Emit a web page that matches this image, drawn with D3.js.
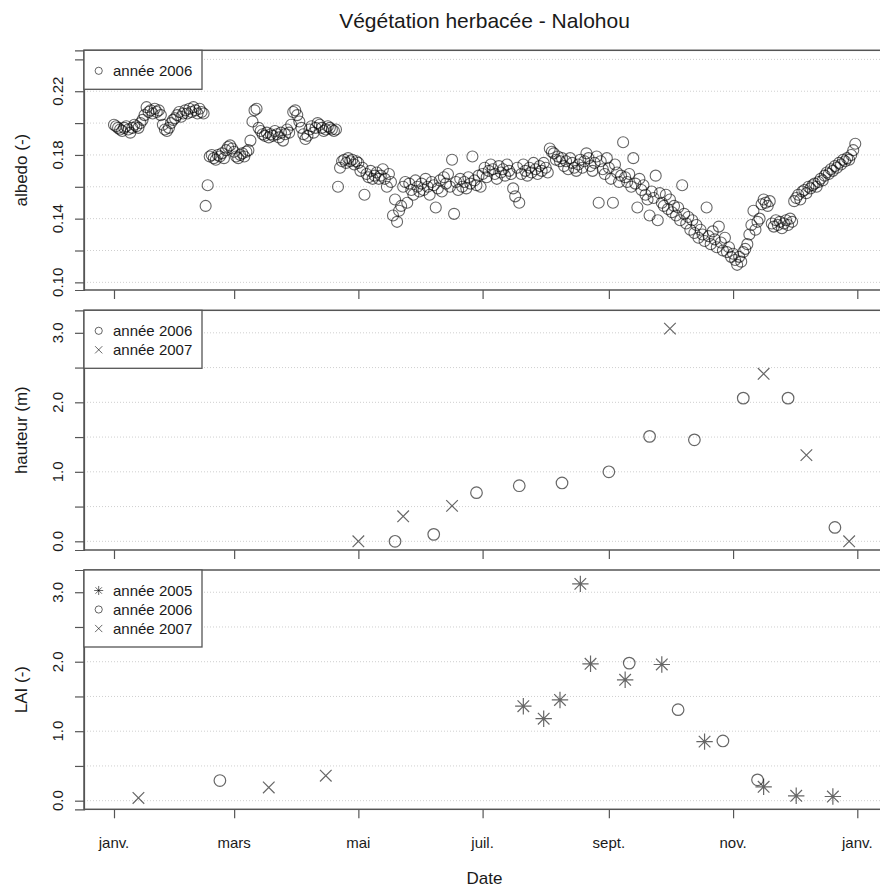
<!DOCTYPE html>
<html><head><meta charset="utf-8">
<script src="https://cdn.jsdelivr.net/npm/d3@7"></script>
<style>body{margin:0;background:#fff}svg{display:block}text{font-family:"Liberation Sans",Arial,Helvetica,sans-serif;fill:#1a1a1a}</style>
</head><body><svg id="c" width="880" height="891"></svg>
<script>
// ---- DATA ----
const monthTickDays = [0, 59, 120, 181, 243, 304, 365];
const monthTickLabels = ["janv.", "mars", "mai", "juil.", "sept.", "nov.", "janv."];

// albedo 2006: one value per day of year, starting Jan 1 (index = day)
const albedo2006 = [
0.199,0.198,0.197,0.196,0.195,0.197,0.198,0.196,0.194,0.197,0.199,0.198,0.197,0.200,0.202,
0.205,0.210,0.207,0.208,0.206,0.209,0.207,0.208,0.205,
0.199,0.196,0.195,0.197,0.200,0.202,
0.203,0.205,0.207,0.204,0.206,0.208,0.206,0.209,0.207,0.210,0.208,0.206,0.209,0.207,0.206,
0.148,0.161,
0.179,0.180,0.178,0.177,0.180,0.179,0.181,0.178,0.183,0.185,0.186,0.184,0.182,0.179,0.178,0.180,0.181,0.179,0.182,0.183,0.189,0.201,0.208,
0.209,0.197,0.195,0.193,0.192,
0.194,0.191,0.193,0.192,0.195,0.193,0.191,0.194,0.189,0.193,0.196,0.194,
0.199,0.207,0.208,0.205,0.201,
0.197,0.193,0.190,0.192,0.196,0.198,0.194,0.197,0.200,
0.199,0.197,0.195,0.196,0.198,0.197,0.196,0.195,0.196,
0.160,
0.172,0.176,0.177,0.175,0.178,0.176,0.177,0.174,0.176,0.175,
0.170,0.172,0.155,0.168,0.166,0.170,0.165,0.167,0.169,0.165,
0.167,0.171,0.165,0.160,0.168,0.163,0.142,0.152,0.138,0.145,
0.148,0.160,0.163,0.150,0.162,0.158,0.155,0.164,0.160,0.157,
0.162,0.158,0.165,0.160,0.155,0.163,0.161,0.147,0.159,0.164,
0.157,0.166,0.162,0.168,0.160,0.177,0.143,0.163,0.158,0.165,
0.160,0.163,0.159,0.166,0.162,0.179,0.164,0.161,0.167,0.160,
0.168,0.172,0.166,0.170,0.174,0.171,0.168,0.165,0.173,0.169,
0.171,0.167,0.174,0.170,0.168,0.159,0.154,0.172,0.150,0.168,
0.174,0.170,0.167,0.172,0.169,0.175,0.171,0.168,0.173,0.170,
0.175,0.172,0.169,0.184,0.182,0.181,0.177,0.179,0.176,0.178,
0.173,0.176,0.171,0.178,0.175,0.172,0.170,0.174,0.177,0.172,
0.176,0.181,0.178,0.173,0.170,0.175,0.179,0.150,0.176,0.171,
0.168,0.178,0.172,0.165,0.150,0.174,0.169,0.163,0.167,0.188,
0.166,0.163,0.168,0.160,0.178,0.162,0.147,0.165,0.158,0.161,
0.155,0.152,0.142,0.157,0.153,0.167,0.139,0.156,0.150,0.148,
0.155,0.146,0.152,0.144,0.148,0.142,0.147,0.139,0.161,0.143,
0.137,0.141,0.133,0.139,0.131,0.136,0.128,0.133,0.130,0.126,
0.147,0.129,0.124,0.132,0.127,0.122,0.135,0.125,0.120,0.128,
0.119,0.122,0.116,0.118,0.114,0.111,0.116,0.113,0.119,0.121,
0.124,0.130,0.136,0.145,0.133,0.138,0.140,0.149,0.152,0.150,0.148,0.151,
0.137,0.135,0.139,0.136,0.138,0.134,0.137,0.139,0.136,0.140,0.138,
0.151,0.153,0.155,0.152,0.157,0.158,0.156,0.160,0.159,0.161,0.162,0.160,
0.163,0.165,0.164,0.167,0.169,0.168,0.171,0.170,0.173,0.172,0.175,
0.174,0.177,0.176,0.178,0.177,0.180,0.183,0.187
];

// hauteur (m)
const hauteur2006Days = [138, 157, 178, 199, 220, 243, 263, 285, 309, 331, 354];
const hauteur2006Vals = [0.00, 0.10, 0.70, 0.80, 0.84, 1.00, 1.51, 1.46, 2.06, 2.06, 0.20];
const hauteur2007Days = [120, 142, 166, 273, 319, 340, 361];
const hauteur2007Vals = [0.00, 0.36, 0.51, 3.06, 2.41, 1.24, 0.00];

// LAI (-)
const lai2005Days = [201, 211, 219, 229, 234, 251, 269, 290, 319, 335, 353];
const lai2005Vals = [1.36, 1.18, 1.45, 3.12, 1.97, 1.74, 1.96, 0.85, 0.20, 0.07, 0.06];
const lai2006Days = [52, 253, 277, 299, 316];
const lai2006Vals = [0.29, 1.98, 1.31, 0.86, 0.30];
const lai2007Days = [12, 76, 104];
const lai2007Vals = [0.04, 0.19, 0.36];

const albedoTicks = [0.10,0.12,0.14,0.16,0.18,0.20,0.22,0.24];
const albedoLabels = [0.10,0.14,0.18,0.22];
const heightTicks = [0,0.5,1,1.5,2,2.5,3];
const heightLabels = [0,1,2,3];

// ---- DRAWING ----
const svg = d3.select("#c");
const X0 = 84, X1 = 885;
const t0 = Date.UTC(2006,0,1), DAY = 86400000;
const toDate = d => new Date(t0 + d*DAY);
const x = d3.scaleUtc().domain([toDate(-14.73), toDate(378.6)]).range([X0, X1]);

const boxCol = "#555";
const markCol = "rgba(0,0,0,0.6)";

function panel(top, bottom, ydom, ticks, labels, fmt, title) {
  const y = d3.scaleLinear().domain(ydom).range([bottom, top]);
  const g = svg.append("g");
  g.selectAll("line.grid").data(ticks).join("line")
    .attr("x1", X0).attr("x2", X1).attr("y1", d=>y(d)).attr("y2", d=>y(d))
    .attr("stroke", "#cfcfcf").attr("stroke-width", 1).attr("stroke-dasharray", "1,2");
  const ax = d3.axisLeft(y).tickValues(ticks).tickSize(9).tickFormat("");
  const ag = g.append("g").attr("transform", `translate(${X0},0)`).call(ax);
  ag.select(".domain").attr("stroke", boxCol).attr("stroke-width", 1.2);
  ag.selectAll(".tick line").attr("stroke", boxCol).attr("stroke-width", 1.2);
  g.selectAll("text.yl").data(labels).join("text")
    .attr("transform", d=>`translate(57,${y(d)}) rotate(-90)`)
    .attr("text-anchor", "middle").attr("dominant-baseline", "central")
    .style("font-size", "15px").text(d=>fmt(d));
  const bx = d3.axisBottom(x).tickValues(monthTickDays.map(toDate)).tickSize(9).tickFormat("");
  const bg = g.append("g").attr("transform", `translate(0,${bottom})`).call(bx);
  bg.select(".domain").remove();
  bg.selectAll(".tick line").attr("stroke", boxCol).attr("stroke-width", 1.2);
  g.append("rect").attr("x", X0).attr("y", top).attr("width", X1-X0).attr("height", bottom-top)
    .attr("fill", "none").attr("stroke", boxCol).attr("stroke-width", 1.5);
  g.append("text").attr("transform", `translate(21,${(top+bottom)/2}) rotate(-90)`)
    .attr("text-anchor", "middle").attr("dominant-baseline", "central")
    .style("font-size", "17px").text(title);
  return {g, y};
}

function drawCircle(sel, cx, cy, r, w) {
  sel.append("circle").attr("cx", cx).attr("cy", cy).attr("r", r)
    .attr("fill", "none").attr("stroke", markCol).attr("stroke-width", w);
}
function drawCross(sel, cx, cy, h, w) {
  sel.append("path").attr("d", `M${cx-h},${cy-h}L${cx+h},${cy+h}M${cx-h},${cy+h}L${cx+h},${cy-h}`)
    .attr("stroke", markCol).attr("stroke-width", w).attr("fill", "none");
}
function drawStar(sel, cx, cy, h, w) {
  const p = h*1.414;
  sel.append("path").attr("d",
    `M${cx-h},${cy-h}L${cx+h},${cy+h}M${cx-h},${cy+h}L${cx+h},${cy-h}M${cx-p},${cy}L${cx+p},${cy}M${cx},${cy-p}L${cx},${cy+p}`)
    .attr("stroke", markCol).attr("stroke-width", w).attr("fill", "none");
}

function legend(g, top, items) {
  const h = 20 + 19*items.length;
  g.append("rect").attr("x", X0).attr("y", top).attr("width", 118).attr("height", h)
    .attr("fill", "#fff").attr("stroke", boxCol).attr("stroke-width", 1.3);
  items.forEach((it, i) => {
    const cy = top + 20.5 + 19*i;
    if (it.sym === "o") drawCircle(g, 98.7, cy, 3.6, 1);
    if (it.sym === "x") drawCross(g, 98.7, cy, 3.6, 1);
    if (it.sym === "*") drawStar(g, 98.7, cy, 3.2, 1);
    g.append("text").attr("x", 113).attr("y", cy).attr("dominant-baseline", "central")
      .style("font-size", "15px").text(it.label);
  });
}

svg.append("text").attr("x", 484.5).attr("y", 20).attr("text-anchor", "middle")
  .attr("dominant-baseline", "central").style("font-size", "21px").text("Végétation herbacée - Nalohou");

const p1 = panel(50.3, 290, [0.0952, 0.2457], albedoTicks, albedoLabels, d3.format(".2f"), "albedo (-)");
albedo2006.forEach((v, d) => { if (v != null) drawCircle(p1.g, x(toDate(d)), p1.y(v), 5.5, 1.1); });
legend(p1.g, 50.3, [{sym:"o", label:"année 2006"}]);

const p2 = panel(310.3, 550, [-0.125, 3.324], heightTicks, heightLabels, d3.format(".1f"), "hauteur (m)");
hauteur2006Days.forEach((d, i) => drawCircle(p2.g, x(toDate(d)), p2.y(hauteur2006Vals[i]), 5.8, 1.2));
hauteur2007Days.forEach((d, i) => drawCross(p2.g, x(toDate(d)), p2.y(hauteur2007Vals[i]), 5.8, 1.2));
legend(p2.g, 310.3, [{sym:"o", label:"année 2006"}, {sym:"x", label:"année 2007"}]);

const p3 = panel(570, 809.3, [-0.124, 3.32], heightTicks, heightLabels, d3.format(".1f"), "LAI (-)");
lai2005Days.forEach((d, i) => drawStar(p3.g, x(toDate(d)), p3.y(lai2005Vals[i]), 5.8, 1.2));
lai2006Days.forEach((d, i) => drawCircle(p3.g, x(toDate(d)), p3.y(lai2006Vals[i]), 5.8, 1.2));
lai2007Days.forEach((d, i) => drawCross(p3.g, x(toDate(d)), p3.y(lai2007Vals[i]), 5.8, 1.2));
legend(p3.g, 570, [{sym:"*", label:"année 2005"}, {sym:"o", label:"année 2006"}, {sym:"x", label:"année 2007"}]);

svg.selectAll("text.xl").data(monthTickDays).join("text")
  .attr("x", d=>x(toDate(d))).attr("y", 842).attr("text-anchor", "middle").attr("dominant-baseline", "central")
  .style("font-size", "15px").text((d,i)=>monthTickLabels[i]);
svg.append("text").attr("x", 484.5).attr("y", 878).attr("text-anchor", "middle").attr("dominant-baseline", "central")
  .style("font-size", "17px").text("Date");
</script></body></html>
